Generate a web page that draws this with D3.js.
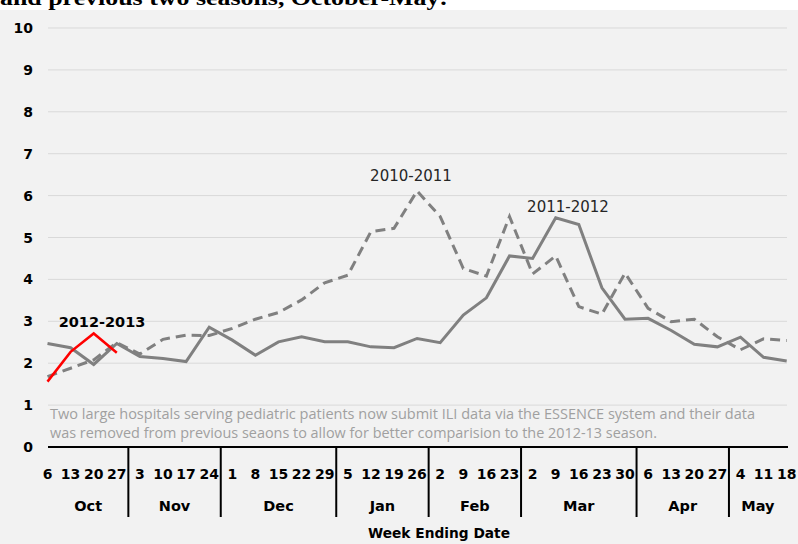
<!DOCTYPE html>
<meta charset="utf-8">
<style>
    body { margin: 0; background: #fff; }
    .grid line { stroke: #d9d9d9; stroke-width: 1; }
    .lab { font-family: "DejaVu Sans", sans-serif; font-weight: bold; fill: #000; }
</style>
<body>
<script src="https://cdn.jsdelivr.net/npm/d3@7"></script>
<script>
    var months = ['Oct','Nov','Dec','Jan','Feb','Mar','Apr','May'],
        days = [
            [6,13,20,27],
            [3,10,17,24],
            [1,8,15,22,29],
            [5,12,19,26],
            [2,9,16,23],
            [2,9,16,23,30],
            [6,13,20,27],
            [4,11,18]
        ],
        yTicks = [0,1,2,3,4,5,6,7,8,9,10];

    var s2010 = [1.68,1.88,2.08,2.49,2.22,2.57,2.67,2.66,2.83,3.05,3.21,3.51,3.92,4.10,
                 5.14,5.22,6.11,5.50,4.26,4.08,5.50,4.13,4.56,3.35,3.17,4.15,3.31,2.99,
                 3.05,2.63,2.32,2.58,2.54];
    var s2011 = [2.47,2.37,1.97,2.47,2.16,2.11,2.04,2.86,2.55,2.19,2.51,2.63,2.51,2.51,
                 2.39,2.37,2.59,2.49,3.15,3.56,4.56,4.50,5.47,5.31,3.80,3.05,3.07,2.78,
                 2.45,2.39,2.62,2.14,2.05];
    var s2012 = [1.56,2.27,2.71,2.25];

    var W = 798, H = 544;
    var svg = d3.select('body').append('svg')
        .attr('width', W)
        .attr('height', H);

    svg.append('rect').attr('x', 0).attr('y', 10).attr('width', W).attr('height', H - 10)
        .attr('fill', '#f2f2f2');

    // title, cut off at the top as in the original
    svg.append('text')
        .attr('x', 0).attr('y', 5)
        .attr('textLength', 448).attr('lengthAdjust', 'spacingAndGlyphs')
        .style('font-family', '"Liberation Serif", "Times New Roman", serif')
        .style('font-weight', 'bold').style('font-size', '22px')
        .text('and previous two seasons, October-May:');

    // flat list of weeks
    var weeks = [];
    days.forEach(function(d, m) {
        d.forEach(function(v) { weeks.push({m: m, day: v}); });
    });

    var x = d3.scaleLinear().domain([0, weeks.length - 1]).range([47.5, 786.7]);
    var y = d3.scaleLinear().domain([0, 10]).range([447, 28]);

    // gridlines
    svg.append('g').attr('class', 'grid')
        .selectAll('line').data(yTicks.slice(1)).enter()
        .append('line')
        .attr('x1', 48).attr('x2', 787)
        .attr('y1', function(d) { return y(d); })
        .attr('y2', function(d) { return y(d); });

    svg.append('g')
        .selectAll('text').data(yTicks).enter()
        .append('text').attr('class', 'lab')
        .attr('x', 33).attr('y', function(d) { return y(d) + 5; })
        .attr('text-anchor', 'end')
        .style('font-size', '14px')
        .text(function(d) { return d; });

    // note
    var note = svg.append('g').style('font-family', '"Liberation Sans Narrow", "Open Sans", sans-serif')
        .style('font-size', '15px').style('fill', '#a0a0a0');
    note.append('text').attr('x', 50).attr('y', 419)
        .attr('textLength', 705).attr('lengthAdjust', 'spacingAndGlyphs')
        .text('Two large hospitals serving pediatric patients now submit ILI data via the ESSENCE system and their data');
    note.append('text').attr('x', 50).attr('y', 438)
        .attr('textLength', 607).attr('lengthAdjust', 'spacingAndGlyphs')
        .text('was removed  from previous seaons to allow for better comparision to the 2012-13 season.');

    var line = d3.line()
        .x(function(d, i) { return x(i); })
        .y(function(d) { return y(d); });

    svg.append('path').datum(s2011)
        .attr('d', line).attr('fill', 'none')
        .attr('stroke', '#808080').attr('stroke-width', 3);

    svg.append('path').datum(s2010)
        .attr('d', line).attr('fill', 'none')
        .attr('stroke', '#808080').attr('stroke-width', 3)
        .attr('stroke-dasharray', '10,6');

    svg.append('path').datum(s2012)
        .attr('d', line).attr('fill', 'none')
        .attr('stroke', '#ff0000').attr('stroke-width', 2.5);

    // series labels
    svg.append('text').attr('x', 411).attr('y', 181).attr('text-anchor', 'middle')
        .style('font-family', '"DejaVu Sans", sans-serif').style('font-size', '15px')
        .attr('fill', '#262626').text('2010-2011');
    svg.append('text').attr('x', 568).attr('y', 212).attr('text-anchor', 'middle')
        .style('font-family', '"DejaVu Sans", sans-serif').style('font-size', '15px')
        .attr('fill', '#262626').text('2011-2012');
    svg.append('text').attr('class', 'lab').attr('x', 102).attr('y', 327)
        .attr('text-anchor', 'middle').style('font-size', '14.5px')
        .text('2012-2013');

    // x axis
    svg.append('line').attr('x1', 48).attr('x2', 788)
        .attr('y1', 447).attr('y2', 447)
        .attr('stroke', '#000').attr('stroke-width', 2);

    svg.append('g').selectAll('text').data(weeks).enter()
        .append('text').attr('class', 'lab')
        .attr('x', function(d, i) { return x(i); })
        .attr('y', 479)
        .attr('text-anchor', 'middle')
        .style('font-size', '14px')
        .text(function(d) { return d.day; });

    // month groups
    var start = 0, groups = [];
    days.forEach(function(d, m) {
        groups.push({name: months[m], a: start, b: start + d.length - 1});
        start += d.length;
    });

    svg.append('g').selectAll('line').data(groups.slice(1)).enter()
        .append('line')
        .attr('x1', function(g) { return x(g.a - 0.5); })
        .attr('x2', function(g) { return x(g.a - 0.5); })
        .attr('y1', 447).attr('y2', 517)
        .attr('stroke', '#000').attr('stroke-width', 2);

    svg.append('g').selectAll('text').data(groups).enter()
        .append('text').attr('class', 'lab')
        .attr('x', function(g, i) {
            var l = i === 0 ? 48 : x(g.a - 0.5),
                r = i === groups.length - 1 ? 787 : x(g.b + 0.5);
            return (l + r) / 2;
        })
        .attr('y', 511)
        .attr('text-anchor', 'middle')
        .style('font-size', '14.5px')
        .text(function(g) { return g.name; });

    svg.append('text').attr('class', 'lab')
        .attr('x', 439).attr('y', 538).attr('text-anchor', 'middle')
        .attr('textLength', 142).attr('lengthAdjust', 'spacingAndGlyphs')
        .style('font-size', '14.5px')
        .text('Week Ending Date');
</script>
</body>
